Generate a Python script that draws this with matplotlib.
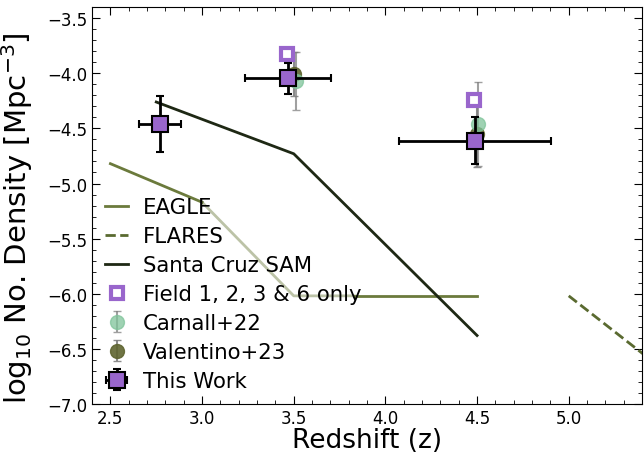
import numpy as np
import matplotlib
matplotlib.use("Agg")
import matplotlib.pyplot as plt
from matplotlib.ticker import MultipleLocator

# EAGLE: dark segments and a faint middle part
eagle_z_a = [2.5, 3.0]
eagle_n_a = [-4.82, -5.17]
eagle_z_b = [3.0, 3.5, 3.83]
eagle_n_b = [-5.17, -6.02, -6.02]
eagle_z_c = [3.83, 4.5]
eagle_n_c = [-6.02, -6.02]

flares_z = [5.0, 6.0]
flares_n = [-6.02, -7.32]

sam_z = [2.75, 3.5, 4.5]
sam_n = [-4.26, -4.73, -6.38]

field_z = [3.465, 4.485]
field_n = [-3.82, -4.24]

carnall_z = [3.51, 4.505]
carnall_n = [-4.07, -4.46]
carnall_err = [0.26, 0.38]

valentino_z = [3.5, 4.5]
valentino_n = [-4.01, -4.55]
valentino_err = [0.2, 0.3]

tw_z = [2.77, 3.47, 4.49]
tw_n = [-4.46, -4.045, -4.61]
tw_zerr = [[0.115, 0.235, 0.415], [0.115, 0.235, 0.415]]
tw_nerr = [0.25, 0.14, 0.21]

olive = "#6b7a3c"
dark = "#1e2814"
purple = "#9966cc"

fig = plt.figure(figsize=(6.44, 4.6), dpi=100)
ax = fig.add_axes([0.143, 0.12, 0.854, 0.862])

ax.plot(eagle_z_a, eagle_n_a, color=olive, lw=2, label="EAGLE")
ax.plot(eagle_z_b, eagle_n_b, color=olive, lw=2, alpha=0.45)
ax.plot(eagle_z_c, eagle_n_c, color=olive, lw=2)
ax.plot(flares_z, flares_n, color="#5a6a30", lw=2, ls="--", label="FLARES")
ax.plot(sam_z, sam_n, color=dark, lw=2, label="Santa Cruz SAM")

ax.plot(field_z, field_n, ls="none", marker="s", ms=9, mfc="white",
        mec=purple, mew=3, label="Field 1, 2, 3 & 6 only", zorder=4)
ax.errorbar(valentino_z, valentino_n, yerr=valentino_err, fmt="o", ms=10,
            color="#5f6530", ecolor="grey", elinewidth=1.5, capsize=3,
            alpha=0.9, label="Valentino+23", zorder=3)
ax.errorbar(carnall_z, carnall_n, yerr=carnall_err, fmt="o", ms=10,
            color="#7fc49a", ecolor="grey", elinewidth=1.5, capsize=3,
            alpha=0.75, label="Carnall+22", zorder=3)
ax.errorbar(tw_z, tw_n, xerr=tw_zerr, yerr=tw_nerr, fmt="s", ms=12,
            mfc=purple, mec="black", mew=1.5, ecolor="black",
            elinewidth=2, capsize=3, capthick=1.5, label="This Work", zorder=5)

ax.set_xlim(2.4, 5.4)
ax.set_ylim(-7.0, -3.4)
ax.xaxis.set_major_locator(MultipleLocator(0.5))
ax.xaxis.set_minor_locator(MultipleLocator(0.1))
ax.yaxis.set_major_locator(MultipleLocator(0.5))
ax.yaxis.set_minor_locator(MultipleLocator(0.1))
ax.tick_params(which="both", direction="in", top=True, right=True, labelsize=12)
ax.tick_params(which="major", length=6)
ax.tick_params(which="minor", length=3)

ax.set_xlabel("Redshift (z)", fontsize=19, labelpad=0)
ax.set_ylabel(r"log$_{10}$ No. Density [Mpc$^{-3}$]", fontsize=21)
ax.yaxis.set_label_coords(-0.103, 0.47)

handles, labels = ax.get_legend_handles_labels()
order = ["EAGLE", "FLARES", "Santa Cruz SAM", "Field 1, 2, 3 & 6 only",
         "Carnall+22", "Valentino+23", "This Work"]
hl = dict(zip(labels, handles))
ax.legend([hl[k] for k in order], order, loc="lower left", frameon=False,
          fontsize=15.3, handlelength=1.1, handletextpad=0.7, labelspacing=0.42,
          borderaxespad=0.2)

fig.savefig("out.png", dpi=100)
